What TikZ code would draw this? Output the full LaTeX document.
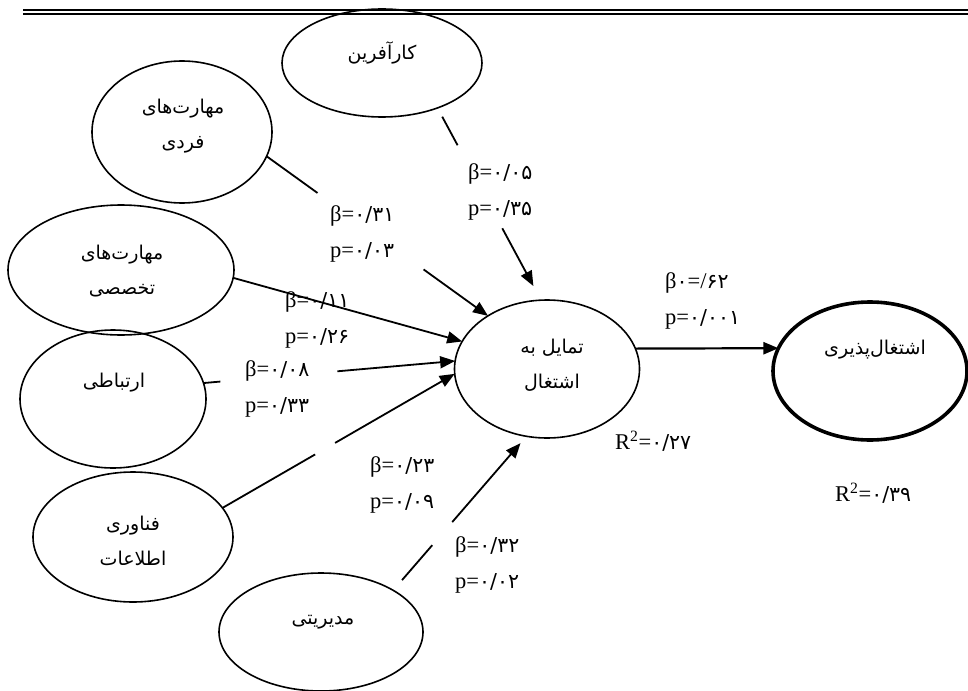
\documentclass[tikz,border=0pt]{standalone}
\usepackage{fontspec}
\setmainfont{Liberation Serif}
\newfontfamily\arabicfont[Script=Arabic]{DejaVu Sans}
\TeXXeTstate=1
\usetikzlibrary{arrows.meta,shapes.geometric}
\newcommand\fnum[1]{{\arabicfont\fontsize{20.5}{22}\selectfont #1}}
\newcommand\fword[1]{{\arabicfont\beginR #1\endR}}
\begin{document}
\begin{tikzpicture}[x=1pt,y=-1pt,
  ell/.style={ellipse,draw,line width=1.6pt,inner sep=0pt,outer sep=0pt},
  word/.style={font=\arabicfont\fontsize{19}{35}\selectfont,align=center,inner sep=0pt},
  coef/.style={font=\fontsize{22.5}{36}\selectfont,align=left,inner sep=0pt,anchor=west},
  link/.style={line width=1.8pt},
  arr/.style={link,-{Triangle[length=15pt,width=12pt]}},
]
\useasboundingbox (0,0) rectangle (968,690);
\draw[line width=1.8pt] (23,9.8) -- (968,9.8) (23,13.8) -- (968,13.8);

% ellipses
\node[ell,minimum width=200pt,minimum height=108pt] (kar) at (382,63) {};
\node[ell,minimum width=180pt,minimum height=142pt] (far) at (182,132) {};
\node[ell,minimum width=226pt,minimum height=130pt] (takh) at (121,270) {};
\node[ell,minimum width=186pt,minimum height=138pt] (ert) at (113,399) {};
\node[ell,minimum width=200pt,minimum height=130pt] (fan) at (133,537) {};
\node[ell,minimum width=204pt,minimum height=118pt] (mod) at (321,632) {};
\node[ell,minimum width=185pt,minimum height=138pt] (tam) at (547,369) {};
\node[ell,line width=3.6pt,minimum width=194pt,minimum height=138pt] (ash) at (870,371) {};

% texts
\node[word] (kar-t) at (382,53) {\fword{کارآفرین}};
\node[word] (far-t) at (183,126) {\fword{مهارت‌های}\\\fword{فردی}};
\node[word] (takh-t) at (122,271) {\fword{مهارت‌های}\\\fword{تخصصی}};
\node[word] (ert-t) at (114,383) {\fword{ارتباطی}};
\node[word] (fan-t) at (133,541) {\fword{فناوری}\\\fword{اطلاعات}};
\node[word] (mod-t) at (323,622) {\fword{مدیریتی}};
\node[word] (tam-t) at (552,365) {\fword{تمایل به}\\\fword{اشتغال}};
\node[word] (ash-t) at (875,350) {\fword{اشتغال‌پذیری}};

% connectors
\path (kar.-39) -- (tam.95) coordinate[pos=0.194] (k1) coordinate[pos=0.626] (k2);
\draw[link,shorten <=10pt] (kar.-39) -- (k1);
\draw[arr,shorten >=16pt] (k2) -- (tam.95);

\path (far.-16) -- (tam.138) coordinate[pos=0.23] (f1) coordinate[pos=0.709] (f2);
\draw[link] (far.-16) -- (f1);
\draw[arr] (f2) -- (tam.138);

\draw[arr] (takh.-4) -- (tam.162);

\path (ert.10) -- (tam.175) coordinate[pos=0.067] (e1) coordinate[pos=0.532] (e2);
\draw[link] (ert.10) -- (e1);
\draw[arr] (e2) -- (tam.175);

\path (fan.18) -- (tam.183) coordinate[pos=0.399] (n1) coordinate[pos=0.485] (n2);
\draw[link] (fan.18) -- (n1);
\draw[arr] (n2) -- (tam.183);

\path (mod.30) -- (tam.253) coordinate[pos=0.293] (m1) coordinate[pos=0.443] (m2);
\draw[link,shorten <=13.5pt] (mod.30) -- (m1);
\draw[arr,shorten >=9pt] (m2) -- (tam.253);

\draw[arr,line width=2.2pt] (tam.13) -- (ash.166);

% coefficients
\node[coef] (c1) at (468,192) {β=\fnum{۰/۰۵}\\p=\fnum{۰/۳۵}};
\node[coef] (c2) at (330,234) {β=\fnum{۰/۳۱}\\p=\fnum{۰/۰۳}};
\node[coef] (c3) at (285,320) {β=\fnum{۰/۱۱}\\p=\fnum{۰/۲۶}};
\node[coef] (c4) at (245,389) {β=\fnum{۰/۰۸}\\p=\fnum{۰/۳۳}};
\node[coef] (c5) at (370,485) {β=\fnum{۰/۲۳}\\p=\fnum{۰/۰۹}};
\node[coef] (c6) at (455,565) {β=\fnum{۰/۳۲}\\p=\fnum{۰/۰۲}};
\node[coef] (c7) at (665,301) {β\fnum{۰}=/\fnum{۶۲}\\p=\fnum{۰/۰۰۱}};
\node[coef] (r1) at (615,441) {R\textsuperscript{2}=\fnum{۰/۲۷}};
\node[coef] (r2) at (835,493) {R\textsuperscript{2}=\fnum{۰/۳۹}};
\end{tikzpicture}
\end{document}
